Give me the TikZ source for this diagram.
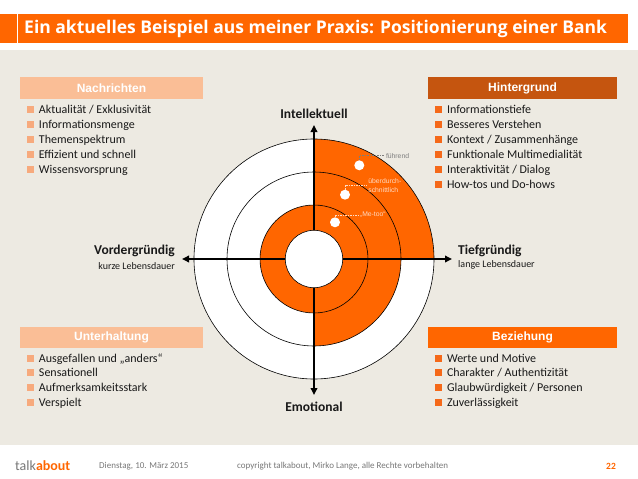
\documentclass[tikz,border=0pt]{standalone}
\usepackage{fontspec}
\setmainfont{Carlito}
\newfontfamily\titelfont{Open Sans}
\newfontfamily\arialfont{Liberation Sans}
\usepackage{xcolor}
\usepackage{tikz}
\usetikzlibrary{positioning,arrows.meta}

\definecolor{titelorange}{RGB}{255,102,0}
\definecolor{kreisorange}{RGB}{255,102,0}
\definecolor{pfirsich}{RGB}{250,190,150}
\definecolor{pfirsichpunkt}{RGB}{247,170,125}
\definecolor{dunkelorange}{RGB}{197,85,15}
\definecolor{listorange}{RGB}{245,105,25}
\definecolor{beige}{RGB}{237,234,226}
\definecolor{schrift}{RGB}{25,25,25}
\definecolor{fussgrau}{RGB}{120,120,120}
\definecolor{minigrau}{RGB}{125,125,125}
\definecolor{minihell}{RGB}{255,218,195}

\newcommand{\bulL}{\strut\textcolor{pfirsichpunkt}{\rule[0.5pt]{7pt}{7pt}}\hspace{5pt}}
\newcommand{\bulR}{\strut\textcolor{listorange}{\rule[0.5pt]{7pt}{7pt}}\hspace{5pt}}

\begin{document}
\begin{tikzpicture}[x=1pt, y=-1pt,
    kopf/.style={minimum width=183pt, minimum height=22pt, inner sep=0pt, text=white, font=\arialfont\bfseries\fontsize{12}{14}\selectfont},
    liste/.style={align=left, inner sep=0pt, text=schrift, font=\fontsize{12}{15}\selectfont},
    achse/.style={inner sep=1pt, text=schrift, font=\bfseries\fontsize{13.5}{16}\selectfont},
    unter/.style={inner sep=1pt, text=schrift, font=\fontsize{10}{12}\selectfont},
    pfeil/.style={line width=2pt, -{Triangle[length=7pt,width=6.5pt]}},
    ring/.style={line width=0.6pt},
    punkt/.style={circle, fill=white, minimum size=10pt, inner sep=0pt},
    mini/.style={inner sep=1.5pt, align=left, font=\arialfont\fontsize{6.8}{8.4}\selectfont},
    leit/.style={line width=0.5pt, dash pattern=on 1.5pt off 1pt},
    fuss/.style={anchor=west, inner sep=0pt, text=fussgrau, font=\fontsize{9}{11}\selectfont}]

    \useasboundingbox (0,0) rectangle (638,479);
    \fill [white] (0,0) rectangle (638,479);
    \fill [beige] (0,50) rectangle (638,445);

    \fill [titelorange] (0,14) rectangle (628,43);
    \draw [white, line width=0.8pt] (17,14) -- (17,43);
    \node [anchor=west, inner sep=0pt, text=white, font=\titelfont\bfseries\fontsize{17.5}{20}\selectfont] (titel) at (24,28.5) {Ein aktuelles Beispiel aus meiner Praxis: Positionierung einer Bank};

    \coordinate (M) at (314,259);
    \fill [white] (M) circle [radius=120];
    \fill [kreisorange] (M) -- ++(120,0) arc [start angle=0, end angle=-90, radius=120] -- cycle;
    \fill [kreisorange] (M) -- ++(87,0) arc [start angle=0, end angle=90, radius=87] -- cycle;
    \fill [kreisorange] (M) circle [radius=54];
    \draw [ring] (M) circle [radius=54] (M) circle [radius=87] (M) circle [radius=120];
    \node [circle, draw, ring, fill=white, minimum size=57.4pt, inner sep=0pt] (kern) at (M) {};

    \coordinate (oben) at (314,125);
    \coordinate (unten) at (314,395);
    \coordinate (links) at (182,259);
    \coordinate (rechts) at (452,259);
    \draw [pfeil] (kern.north) -- (oben);
    \draw [pfeil] (kern.south) -- (unten);
    \draw [pfeil] (kern.west) -- (links);
    \draw [pfeil] (kern.east) -- (rechts);

    \node [achse, above=5pt of oben] (intell) {Intellektuell};
    \node [achse, below=6pt of unten] (emot) {Emotional};
    \node [achse, anchor=east] (vorder) at (176,251) {Vordergründig};
    \node [unter, below left=3pt and 0pt of vorder.south east] (kurz) {kurze Lebensdauer};
    \node [achse, anchor=west] (tief) at (457,251) {Tiefgründig};
    \node [unter, below right=1.5pt and 0pt of tief.south west] (lang) {lange Lebensdauer};

    \node [punkt] (p1) at (359.3,165.3) {};
    \node [punkt] (p2) at (345,194.7) {};
    \node [punkt] (p3) at (335,222.3) {};
    \node [mini, anchor=west, text=minigrau] (fuehrend) at (384.3,155.7) {führend};
    \node [mini, anchor=west, text=minihell] (ueber) at (366.7,185.7) {überdurch-\\schnittlich};
    \node [mini, anchor=west, text=minihell] (metoo) at (358.3,215) {„Me-too“};
    \draw [leit, draw=minigrau] (p1.north) |- (fuehrend.west);
    \draw [leit, draw=minihell] (p2.north) |- (ueber.west);
    \draw [leit, draw=minihell] (p3.north) |- (metoo.west);

    \node [kopf, fill=pfirsich] (nachr) at (111.5,88) {Nachrichten};
    \node [kopf, fill=dunkelorange, minimum width=189pt] (hinter) at (522.5,88) {Hintergrund};
    \node [kopf, fill=pfirsich, minimum height=21pt] (unterh) at (111.5,337.5) {Unterhaltung};
    \node [kopf, fill=titelorange, minimum width=189pt, minimum height=21pt] (bez) at (522.5,337.5) {Beziehung};

    \node [liste, below right=3.5pt and 7pt of nachr.south west] (nachrliste) {\bulL Aktualität / Exklusivität\\ \bulL Informationsmenge\\ \bulL Themenspektrum\\ \bulL Effizient und schnell\\ \bulL Wissensvorsprung};
    \node [liste, below right=3.5pt and 7pt of hinter.south west] (hinterliste) {\bulR Informationstiefe\\ \bulR Besseres Verstehen\\ \bulR Kontext / Zusammenhänge\\ \bulR Funktionale Multimedialität\\ \bulR Interaktivität / Dialog\\ \bulR How-tos und Do-hows};
    \node [liste, font=\fontsize{12}{14.7}\selectfont, below right=3.5pt and 7pt of unterh.south west] (unterhliste) {\bulL Ausgefallen und „anders“\\ \bulL Sensationell\\ \bulL Aufmerksamkeitsstark\\ \bulL Verspielt};
    \node [liste, font=\fontsize{12}{14.7}\selectfont, below right=3.5pt and 7pt of bez.south west] (bezliste) {\bulR Werte und Motive\\ \bulR Charakter / Authentizität\\ \bulR Glaubwürdigkeit / Personen\\ \bulR Zuverlässigkeit};

    \node [anchor=west, inner sep=0pt, font=\fontsize{14}{16}\selectfont] (logo) at (15,466) {\textcolor{fussgrau}{talk}\textcolor{titelorange}{\bfseries about}};
    \node [fuss] (datum) at (99,466) {Dienstag, 10. März 2015};
    \node [fuss] (copy) at (237,466) {copyright talkabout, Mirko Lange, alle Rechte vorbehalten};
    \node [fuss, text=titelorange, font=\bfseries\fontsize{9.5}{11}\selectfont] (seite) at (606,466) {22};
\end{tikzpicture}
\end{document}
